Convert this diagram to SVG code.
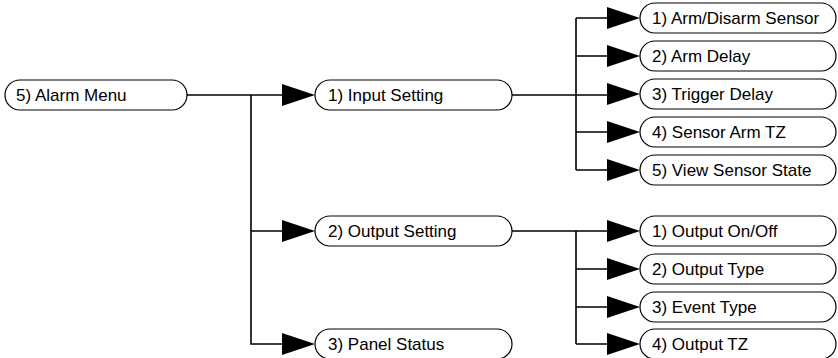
<svg xmlns="http://www.w3.org/2000/svg" width="838" height="358" viewBox="0 0 838 358">
<defs>
<style>
.box{fill:#fff;stroke:#000;stroke-width:1.2}
.t{font-family:"Liberation Sans",Arial,sans-serif;font-size:17px;fill:#000}
.ln{fill:none;stroke:#000;stroke-width:1.6}
.ah{fill:#000;stroke:none}
</style>
</defs>
<rect width="838" height="358" fill="#fff"/>
<g id="connectors">
<path class="ln" d="M187 95H282M251 95V344H282M251 231H282"/>
<path class="ln" d="M512 95H607M576 18V170M576 18H607M576 56H607M576 132H607M576 170H607"/>
<path class="ln" d="M512 231H607M576 231V344M576 269H607M576 307H607M576 344H607"/>
<polygon class="ah" points="282,84 315,95 282,106"/>
<polygon class="ah" points="282,220 315,231 282,242"/>
<polygon class="ah" points="282,333 315,344 282,355"/>
<polygon class="ah" points="607,7 640,18 607,29"/>
<polygon class="ah" points="607,45 640,56 607,67"/>
<polygon class="ah" points="607,83 640,94 607,105"/>
<polygon class="ah" points="607,121 640,132 607,143"/>
<polygon class="ah" points="607,159 640,170 607,181"/>
<polygon class="ah" points="607,220 640,231 607,242"/>
<polygon class="ah" points="607,258 640,269 607,280"/>
<polygon class="ah" points="607,296 640,307 607,318"/>
<polygon class="ah" points="607,333 640,344 607,355"/>
</g>
<g id="n-alarm"><rect class="box" x="5" y="80" width="182" height="30" rx="15"/><text class="t" x="16" y="101">5) Alarm Menu</text></g>
<g id="n-input"><rect class="box" x="315" y="80" width="197" height="30" rx="15"/><text class="t" x="328" y="101">1) Input Setting</text></g>
<g id="n-output"><rect class="box" x="315" y="216" width="197" height="30" rx="15"/><text class="t" x="328" y="237">2) Output Setting</text></g>
<g id="n-panel"><rect class="box" x="315" y="329" width="197" height="30" rx="15"/><text class="t" x="328" y="350">3) Panel Status</text></g>
<g id="n-in1"><rect class="box" x="640" y="3" width="196" height="30" rx="15"/><text class="t" x="652" y="24">1) Arm/Disarm Sensor</text></g>
<g id="n-in2"><rect class="box" x="640" y="41" width="196" height="30" rx="15"/><text class="t" x="652" y="62">2) Arm Delay</text></g>
<g id="n-in3"><rect class="box" x="640" y="79" width="196" height="30" rx="15"/><text class="t" x="652" y="100">3) Trigger Delay</text></g>
<g id="n-in4"><rect class="box" x="640" y="117" width="196" height="30" rx="15"/><text class="t" x="652" y="138">4) Sensor Arm TZ</text></g>
<g id="n-in5"><rect class="box" x="640" y="155" width="196" height="30" rx="15"/><text class="t" x="652" y="176">5) View Sensor State</text></g>
<g id="n-out1"><rect class="box" x="640" y="216" width="196" height="30" rx="15"/><text class="t" x="652" y="237">1) Output On/Off</text></g>
<g id="n-out2"><rect class="box" x="640" y="254" width="196" height="30" rx="15"/><text class="t" x="652" y="275">2) Output Type</text></g>
<g id="n-out3"><rect class="box" x="640" y="292" width="196" height="30" rx="15"/><text class="t" x="652" y="313">3) Event Type</text></g>
<g id="n-out4"><rect class="box" x="640" y="329" width="196" height="30" rx="15"/><text class="t" x="652" y="350">4) Output TZ</text></g>
</svg>
